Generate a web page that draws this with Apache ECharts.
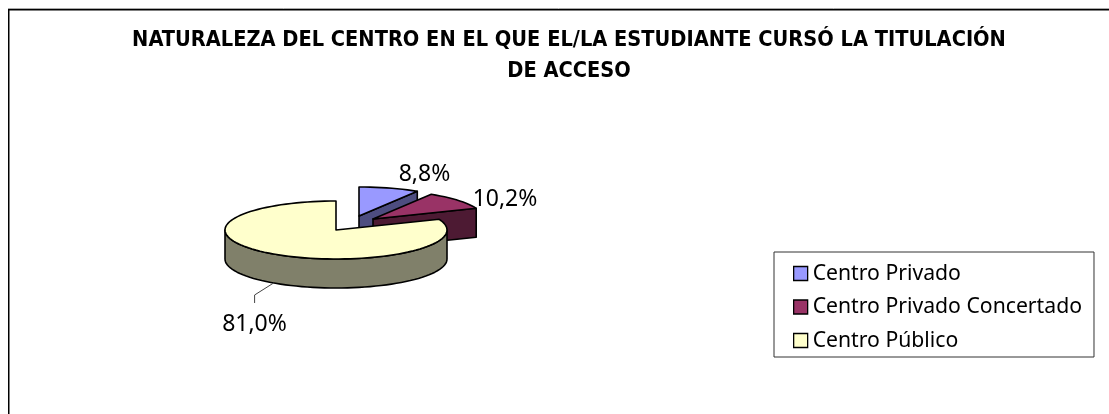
<!DOCTYPE html>
<html>
<head>
<meta charset="utf-8">
<style>html,body{margin:0;padding:0;background:#fff}#chart{width:1109px;height:414px}</style>
<script src="https://cdn.jsdelivr.net/npm/echarts@6/dist/echarts.min.js"></script>
</head>
<body>
<div id="chart"></div>
<script>
const titleLines = [
  "NATURALEZA DEL CENTRO EN EL QUE EL/LA ESTUDIANTE CURSÓ LA TITULACIÓN",
  "DE ACCESO",
];
const categories = ["Centro Privado", "Centro Privado Concertado", "Centro Público"];
const percentages = [8.8, 10.2, 81.0];

const FONT = "Noto Sans";
const TOP_COLORS = ["#9999ff", "#993366", "#ffffcc"];
const SIDE_COLORS = ["#4d4d80", "#4d1a33", "#80806a"];

// pie ellipse, in pixels
const CX = 336, CY = 230, RX = 111, RY = 29, DEPTH = 29;
// how far each slice is pulled out, and where its label sits from the apex
const EXPLODE = [[23, -14], [37, -11], [0, 0]];
const LABEL_POS = [[65.5, -42], [132, -20], [-81.5, 94]];

const total = percentages.reduce((a, b) => a + b, 0);

function pointAt(ox, oy, deg, down) {
  const t = deg * Math.PI / 180;
  return [ox + RX * Math.sin(t), oy - RY * Math.cos(t) + (down || 0)];
}

function arcPoints(ox, oy, from, to, down) {
  const pts = [];
  const n = Math.max(2, Math.ceil((to - from) / 3));
  for (let i = 0; i <= n; i++) pts.push(pointAt(ox, oy, from + (to - from) * i / n, down));
  return pts;
}

function sliceRenderer(idx) {
  return function (params, api) {
    const value = api.value(0);
    const before = percentages.slice(0, idx).reduce((a, b) => a + b, 0);
    const a0 = before / total * 360;
    const a1 = a0 + value / total * 360;
    const ox = CX + EXPLODE[idx][0];
    const oy = CY + EXPLODE[idx][1];
    const edge = { stroke: "#000", lineWidth: 1.6, lineJoin: "round" };
    const shape = (points, fill) => ({
      type: "polygon",
      shape: { points },
      style: Object.assign({ fill }, edge),
    });
    const children = [];

    // cut face
    if (a1 < 180) {
      const p = pointAt(ox, oy, a1);
      children.push(shape([[ox, oy], p, [p[0], p[1] + DEPTH], [ox, oy + DEPTH]], SIDE_COLORS[idx]));
    }
    // outer wall
    const w0 = Math.max(a0, 90), w1 = Math.min(a1, 270);
    if (w1 > w0) {
      const pts = arcPoints(ox, oy, w0, w1).concat(arcPoints(ox, oy, w0, w1, DEPTH).reverse());
      children.push(shape(pts, SIDE_COLORS[idx]));
    }
    // top face
    children.push(shape([[ox, oy]].concat(arcPoints(ox, oy, a0, a1)), TOP_COLORS[idx]));

    const mid = (a0 + a1) / 2;
    if (mid > 90 && mid < 270) {
      // leader line for the big slice
      const s = pointAt(ox, oy, mid, DEPTH);
      children.push({
        type: "polyline",
        shape: { points: [s, [s[0] - 19, s[1] + 12], [s[0] - 19, s[1] + 20]] },
        style: { stroke: "#444", lineWidth: 1, fill: null },
      });
    }
    children.push({
      type: "text",
      x: ox + LABEL_POS[idx][0],
      y: oy + LABEL_POS[idx][1],
      style: {
        text: value.toFixed(1).replace(".", ",") + "%",
        font: "23px '" + FONT + "'",
        fill: "#000",
        align: "center",
        verticalAlign: "middle",
      },
    });
    return { type: "group", children };
  };
}

const chart = echarts.init(document.getElementById("chart"));
chart.setOption({
  animation: false,
  backgroundColor: "#fff",
  title: {
    text: titleLines.join("\n"),
    left: 564,
    top: 20,
    textAlign: "center",
    textStyle: {
      fontFamily: "DejaVu Sans Condensed",
      fontSize: 21.6,
      fontWeight: "bold",
      color: "#000",
      lineHeight: 31,
    },
  },
  legend: {
    data: categories,
    orient: "vertical",
    left: 774,
    top: 252,
    padding: [11, 12, 6, 19],
    itemGap: 12.5,
    itemWidth: 14,
    itemHeight: 14,
    icon: "rect",
    borderColor: "#333",
    borderWidth: 1,
    backgroundColor: "#fff",
    selectedMode: false,
    textStyle: { fontFamily: FONT, fontSize: 21.2, color: "#000" },
    itemStyle: { borderColor: "#000", borderWidth: 1.3 },
  },
  graphic: [{
    type: "polyline",
    silent: true,
    z: -1,
    shape: { points: [[1109, 8.5], [8, 8.5]] },
    style: { fill: "none", stroke: "#aaa", lineWidth: 1 },
  }, {
    type: "polyline",
    silent: true,
    z: -1,
    shape: { points: [[8.75, 414], [8.75, 9.75], [1109, 9.75]] },
    style: { fill: "none", stroke: "#000", lineWidth: 1.5 },
  }],
  series: categories.map((name, i) => ({
    name,
    type: "custom",
    coordinateSystem: "none",
    silent: true,
    itemStyle: { color: TOP_COLORS[i] },
    renderItem: sliceRenderer(i),
    data: [[percentages[i]]],
  })),
});
</script>
</body>
</html>
